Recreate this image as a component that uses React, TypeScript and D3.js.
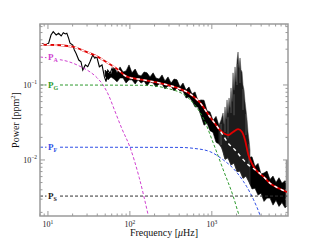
import React from "react";
import * as d3 from "d3";

// thin part of the power spectrum (µHz, ppm^2)
const lowFreq = [8.0, 8.64, 9.29, 10.2, 10.9, 11.6, 12.6, 13.5, 14.5, 15.4, 16.3, 17.0, 17.9, 18.6, 20.1, 21.0, 22.0, 23.8, 25.3, 26.6, 28.6, 30.6, 32.6, 35.2, 37.3, 39.4, 42.4, 45.7, 48.8, 51.2, 53.7, 57.3, 60.6, 64.6, 67.8];
const lowPower = [0.331, 0.352, 0.341, 0.36, 0.464, 0.514, 0.464, 0.489, 0.45, 0.498, 0.479, 0.489, 0.419, 0.36, 0.341, 0.293, 0.265, 0.215, 0.204, 0.158, 0.185, 0.175, 0.204, 0.251, 0.227, 0.238, 0.175, 0.185, 0.129, 0.111, 0.158, 0.143, 0.167, 0.136, 0.158];

// dense part of the spectrum: upper and lower edge of the noise
const bandFreq = [49.8, 54.1, 58.9, 64.1, 69.7, 75.8, 82.5, 89.8, 97.6, 106, 116, 126, 137, 149, 162, 176, 192, 208, 227, 247, 268, 292, 318, 346, 376, 409, 445, 484, 527, 573, 624, 678, 738, 803, 874, 950, 1034, 1125, 1224, 1331, 1448, 1576, 1714, 1865, 2029, 2207, 2401, 2612, 2842, 3092, 3364, 3660, 3981, 4331, 4712, 5127, 5577, 6067, 6601, 7181, 7813, 8500];
const bandHigh = [0.158, 0.145, 0.14, 0.174, 0.145, 0.174, 0.149, 0.154, 0.185, 0.145, 0.163, 0.136, 0.132, 0.149, 0.145, 0.128, 0.145, 0.124, 0.12, 0.136, 0.113, 0.128, 0.106, 0.12, 0.117, 0.094, 0.106, 0.0858, 0.094, 0.0759, 0.0807, 0.0612, 0.0631, 0.0625, 0.0454, 0.0437, 0.0337, 0.0381, 0.0285, 0.0246, 0.026, 0.0209, 0.0227, 0.0167, 0.0183, 0.0147, 0.0162, 0.0127, 0.0108, 0.011, 0.0082, 0.009, 0.0065, 0.0067, 0.0071, 0.0055, 0.0061, 0.005, 0.0058, 0.0049, 0.0053, 0.0049];
const bandLow = [0.132, 0.117, 0.128, 0.12, 0.11, 0.124, 0.124, 0.106, 0.117, 0.117, 0.103, 0.117, 0.106, 0.113, 0.097, 0.11, 0.106, 0.094, 0.103, 0.103, 0.0885, 0.097, 0.097, 0.0832, 0.0912, 0.0832, 0.0832, 0.0671, 0.0692, 0.0612, 0.0509, 0.0509, 0.0386, 0.0291, 0.0311, 0.0246, 0.0233, 0.0172, 0.0163, 0.0144, 0.0102, 0.0107, 0.0086, 0.0091, 0.007, 0.0071, 0.0057, 0.0061, 0.0051, 0.0041, 0.0042, 0.0034, 0.0036, 0.0028, 0.0031, 0.0031, 0.0025, 0.0029, 0.0024, 0.0027, 0.0023, 0.0025];

// oscillation peaks
const modeFreq = [1224, 1295, 1370, 1409, 1448, 1490, 1532, 1576, 1621, 1668, 1714, 1764, 1814, 1865, 1919, 1974, 2029, 2088, 2147, 2207, 2271, 2336, 2401, 2471, 2541, 2612, 2687, 2763, 2842, 2924];
const modePower = [0.0293, 0.0341, 0.0423, 0.03, 0.0509, 0.035, 0.0631, 0.042, 0.0671, 0.05, 0.0912, 0.06, 0.145, 0.085, 0.174, 0.11, 0.215, 0.275, 0.17, 0.229, 0.16, 0.149, 0.1, 0.0858, 0.06, 0.0464, 0.035, 0.0236, 0.0185, 0.0136];

// spikes near the Nyquist frequency
const edgeFreq = [7970, 8500];
const edgeHigh = [0.01, 0.01];
const edgeLow = [0.0024, 0.0024];

// background components
const paFreq = [8, 12.5, 18, 26, 33, 40, 47, 55, 65, 80, 100, 130, 167];
const paPower = [0.236, 0.222, 0.204, 0.172, 0.148, 0.124, 0.1, 0.073, 0.046, 0.026, 0.0149, 0.0058, 0.00185];
const pgFreq = [8, 150, 282, 494, 655, 787, 1043, 1380, 1829, 2104, 2250];
const pgPower = [0.1, 0.099, 0.0903, 0.0698, 0.05, 0.036, 0.0167, 0.00736, 0.00324, 0.00197, 0.0016];
const pfFreq = [8, 400, 594, 951, 1380, 1829, 2421, 2667, 3206, 3900, 4050];
const pfPower = [0.0148, 0.0147, 0.0143, 0.0129, 0.01, 0.0077, 0.0052, 0.0044, 0.003, 0.0018, 0.0016];
const psFreq = [8, 8500];
const psPower = [0.0033, 0.0033];

// total background and full fit
const bgFreq = [8, 12.5, 20, 29, 38.6, 51, 68, 92, 146, 233, 373, 542, 718, 950, 1125, 1331, 1576, 1924, 2325, 2789, 3364, 3660, 4331, 5127, 6067, 7181, 8500];
const bgPower = [0.345, 0.341, 0.324, 0.278, 0.244, 0.204, 0.167, 0.129, 0.117, 0.106, 0.092, 0.076, 0.058, 0.0374, 0.0293, 0.0225, 0.0168, 0.0136, 0.0106, 0.0086, 0.0074, 0.0069, 0.0059, 0.0049, 0.00437, 0.004, 0.0037];
const fitFreq = [8, 12.5, 20, 29, 38.6, 51, 68, 92, 146, 233, 373, 542, 718, 950, 1125, 1259, 1448, 1590, 1814, 2088, 2336, 2541, 2789, 3092, 3364, 3660, 4331, 5127, 6067, 7181, 8500];
const fitPower = [0.345, 0.341, 0.324, 0.278, 0.244, 0.204, 0.167, 0.129, 0.117, 0.106, 0.092, 0.076, 0.058, 0.0374, 0.0293, 0.025, 0.0222, 0.0215, 0.0236, 0.0257, 0.0236, 0.0185, 0.0117, 0.0089, 0.0076, 0.0069, 0.0059, 0.0049, 0.00437, 0.004, 0.0037];

const xTickExp = [1, 2, 3];
const yTickExp = [-1, -2];

const componentLabels = [
    { sub: "A", level: 0.236, color: "#d040d0" },
    { sub: "G", level: 0.1, color: "#2e9a2e" },
    { sub: "F", level: 0.0148, color: "#2f4fe6" },
    { sub: "S", level: 0.0033, color: "#222" },
];

const serif = "'Liberation Serif', 'DejaVu Serif', serif";

export default function App() {
    const left = 40, right = 288, top = 24, bottom = 216;
    const x = d3.scaleLog().domain([8, 8500]).range([left, right]);
    const y = d3.scaleLog().domain([0.00179, 0.65]).range([bottom, top]);

    const pts = (f: number[], p: number[]) => f.map((v, i) => [v, p[i]] as [number, number]);
    const line = d3.line<[number, number]>().x((d) => x(d[0])).y((d) => y(d[1]));
    const smooth = d3
        .line<[number, number]>()
        .x((d) => x(d[0]))
        .y((d) => y(d[1]))
        .curve(d3.curveMonotoneX);
    const area = (f: number[], lo: number[], hi: number[]) =>
        d3
            .area<number>()
            .x((d) => x(d))
            .y0((_, i) => y(lo[i]))
            .y1((_, i) => y(hi[i]))(f) || "";

    // lower edge of the noise, used as foot of the mode peaks
    const bandBottom = d3
        .scaleLinear()
        .domain(bandFreq.map((v) => Math.log10(v)))
        .range(bandLow.map((v) => y(v)));
    const modeArea =
        d3
            .area<number>()
            .x((d) => x(d))
            .y0((d) => bandBottom(Math.log10(d)))
            .y1((_, i) => y(modePower[i]))(modeFreq) || "";

    const ticksX = x.ticks();
    const ticksY = y.ticks();
    const isMajor = (v: number) => Math.abs(Math.log10(v) - Math.round(Math.log10(v))) < 1e-6;

    const components = [
        { f: paFreq, p: paPower, color: "#d040d0" },
        { f: pgFreq, p: pgPower, color: "#2e9a2e" },
        { f: pfFreq, p: pfPower, color: "#2f4fe6" },
        { f: psFreq, p: psPower, color: "#333" },
    ];

    const axisColor = "#9a9a9a";

    return (
        <svg width={320} height={240} style={{ position: "absolute", left: 0, top: 0, background: "#fff" }}>
            <defs>
                <clipPath id="plot">
                    <rect x={left} y={top} width={right - left} height={bottom - top} />
                </clipPath>
            </defs>
            <g clipPath="url(#plot)">
                {/* spectrum */}
                <path d={line(pts(lowFreq, lowPower)) || ""} fill="none" stroke="#000" strokeWidth={1.1} />
                <path d={area(bandFreq, bandLow, bandHigh)} fill="#000" stroke="#000" strokeWidth={0.6} />
                <path d={modeArea} fill="#1c1c1c" stroke="#444" strokeWidth={0.5} />
                {modeFreq.map((f, i) =>
                    i % 3 === 1 ? (
                        <line
                            key={i}
                            x1={x(f)}
                            x2={x(f)}
                            y1={y(modePower[i]) + 4}
                            y2={y(modePower[i]) + 25}
                            stroke="#777"
                            strokeWidth={0.6}
                        />
                    ) : null
                )}
                <path d={area(edgeFreq, edgeLow, edgeHigh)} fill="#999" />

                {/* components */}
                {components.map((c, i) => (
                    <path
                        key={i}
                        d={smooth(pts(c.f, c.p)) || ""}
                        fill="none"
                        stroke={c.color}
                        strokeWidth={1}
                        strokeDasharray="3,2"
                    />
                ))}

                {/* fit and background */}
                <path d={smooth(pts(fitFreq, fitPower)) || ""} fill="none" stroke="#e00000" strokeWidth={1.8} />
                <path
                    d={smooth(pts(bgFreq, bgPower)) || ""}
                    fill="none"
                    stroke="#fff"
                    strokeWidth={1.4}
                    strokeDasharray="3.5,3.5"
                />
            </g>

            {componentLabels.map((l) => (
                <g key={l.sub}>
                    <rect x={46.5} y={y(l.level) - 5} width={13} height={10} fill="#fff" />
                    <text x={48} y={y(l.level) + 3} fontFamily={serif} fontWeight="bold" fontSize={9} fill={l.color}>
                        P
                        <tspan fontSize={6} dy={2}>
                            {l.sub}
                        </tspan>
                    </text>
                </g>
            ))}

            {/* frame and ticks */}
            <rect x={left} y={top} width={right - left} height={bottom - top} fill="none" stroke={axisColor} strokeWidth={1.5} />
            {ticksX.map((t, i) => {
                const len = isMajor(t) ? 5 : 2.5;
                return (
                    <g key={"x" + i} stroke={axisColor} strokeWidth={1}>
                        <line x1={x(t)} x2={x(t)} y1={bottom} y2={bottom - len} />
                        <line x1={x(t)} x2={x(t)} y1={top} y2={top + len} />
                    </g>
                );
            })}
            {ticksY.map((t, i) => {
                const len = isMajor(t) ? 5 : 2.5;
                return (
                    <g key={"y" + i} stroke={axisColor} strokeWidth={1}>
                        <line x1={left} x2={left + len} y1={y(t)} y2={y(t)} />
                        <line x1={right} x2={right - len} y1={y(t)} y2={y(t)} />
                    </g>
                );
            })}

            {xTickExp.map((e) => (
                <text key={e} x={x(Math.pow(10, e))} y={227} textAnchor="middle" fontFamily={serif} fontSize={8} fill="#222">
                    10
                    <tspan fontSize={5.5} dy={-3.5}>
                        {e}
                    </tspan>
                </text>
            ))}
            {yTickExp.map((e) => (
                <text key={e} x={37} y={y(Math.pow(10, e)) + 3} textAnchor="end" fontFamily={serif} fontSize={8} fill="#222">
                    10
                    <tspan fontSize={5.5} dy={-3.5}>
                        {"\u2212" + Math.abs(e)}
                    </tspan>
                </text>
            ))}

            <text x={(left + right) / 2} y={236} textAnchor="middle" fontFamily={serif} fontSize={10} fill="#111">
                Frequency [<tspan fontStyle="italic">μ</tspan>Hz]
            </text>
            <text
                transform={`translate(18.5,${(top + bottom) / 2}) rotate(-90)`}
                textAnchor="middle"
                fontFamily={serif}
                fontSize={10}
                fill="#111"
            >
                Power [ppm
                <tspan fontSize={6.5} dy={-4}>
                    2
                </tspan>
                <tspan dy={4}>]</tspan>
            </text>
        </svg>
    );
}
